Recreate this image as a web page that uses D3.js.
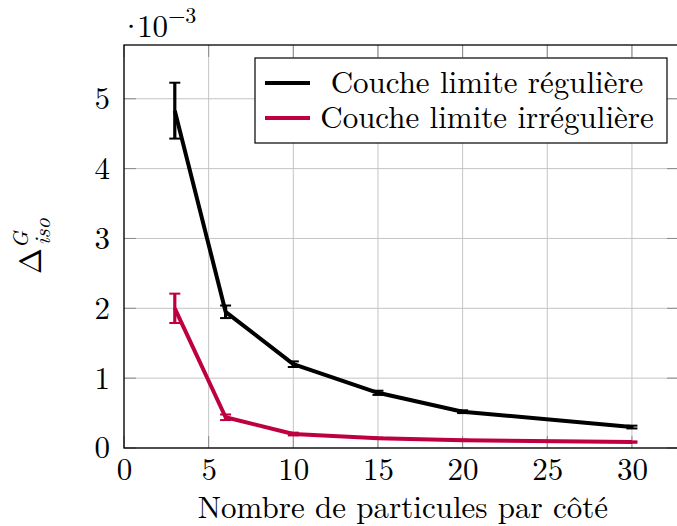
<!DOCTYPE html>
<html>
<head>
<meta charset="utf-8">
<script src="https://cdn.jsdelivr.net/npm/d3@7"></script>
<style>
  html, body { margin: 0; padding: 0; background: #fff; }
  svg { display: block; }
</style>
</head>
<body>
<svg id="chart" width="677" height="526"></svg>
<script>
// Number of particles per side
const particles = [3, 6, 10, 15, 20, 30];
// Delta_iso^G (×10^-3), regular boundary layer
const regularValues = [4.83, 1.95, 1.20, 0.79, 0.52, 0.30];
const regularErrors = [0.40, 0.09, 0.04, 0.03, 0.02, 0.02];
// Delta_iso^G (×10^-3), irregular boundary layer
const irregularValues = [2.00, 0.44, 0.20, 0.14, 0.11, 0.085];
const irregularErrors = [0.21, 0.04, 0.02, 0.01, 0.01, 0.01];

const xTicks = [0, 5, 10, 15, 20, 25, 30];
const yTicks = [0, 1, 2, 3, 4, 5];
const seriesNames = ["Couche limite régulière", "Couche limite irrégulière"];
const seriesColors = ["#000000", "#bf0040"];

const FONT = '"Latin Modern Roman", "Liberation Serif", serif';
const svg = d3.select("#chart");
const plotLeft = 124, plotTop = 45, plotBottom = 448, plotRight = 679;

const x = d3.scaleLinear().domain([0, 32.78]).range([plotLeft, plotRight]);
const y = d3.scaleLinear().domain([0, 5.77]).range([plotBottom, plotTop]);

// grid
const grid = svg.append("g").attr("stroke", "#c4c4c4").attr("stroke-width", 1);
xTicks.forEach(t => grid.append("line")
  .attr("x1", x(t)).attr("x2", x(t)).attr("y1", plotTop).attr("y2", plotBottom));
yTicks.forEach(t => grid.append("line")
  .attr("x1", plotLeft).attr("x2", plotRight).attr("y1", y(t)).attr("y2", y(t)));

// tick marks (inside, on all sides)
const ticks = svg.append("g").attr("stroke", "#8a8a8a").attr("stroke-width", 1);
xTicks.forEach(t => {
  ticks.append("line").attr("x1", x(t)).attr("x2", x(t)).attr("y1", plotBottom).attr("y2", plotBottom - 12);
  ticks.append("line").attr("x1", x(t)).attr("x2", x(t)).attr("y1", plotTop).attr("y2", plotTop + 12);
});
yTicks.forEach(t => {
  ticks.append("line").attr("x1", plotLeft).attr("x2", plotLeft + 12).attr("y1", y(t)).attr("y2", y(t));
  ticks.append("line").attr("x1", plotRight).attr("x2", plotRight - 12).attr("y1", y(t)).attr("y2", y(t));
});

// axes with labels
const xAxis = d3.axisBottom(x).tickValues(xTicks).tickSize(0).tickPadding(10).tickFormat(d3.format("d"));
const gx = svg.append("g").attr("transform", `translate(0,${plotBottom})`).call(xAxis);
gx.select(".domain").remove();
gx.selectAll("text").style("font-family", FONT).style("font-size", "31px").attr("fill", "#000");

const yAxis = d3.axisLeft(y).tickValues(yTicks).tickSize(0).tickPadding(14).tickFormat(d3.format("d"));
const gy = svg.append("g").attr("transform", `translate(${plotLeft},0)`).call(yAxis);
gy.select(".domain").remove();
gy.selectAll("text").style("font-family", FONT).style("font-size", "31px").attr("fill", "#000");

// series
const line = d3.line().x(d => x(d[0])).y(d => y(d[1]));
const series = [
  { values: regularValues, errors: regularErrors, color: seriesColors[0] },
  { values: irregularValues, errors: irregularErrors, color: seriesColors[1] }
];

series.slice().reverse().forEach(s => {
  const pts = particles.map((p, i) => [p, s.values[i]]);
  svg.append("path").datum(pts)
    .attr("fill", "none").attr("stroke", s.color).attr("stroke-width", 4)
    .attr("stroke-linejoin", "round").attr("d", line);
  const eb = svg.append("g").attr("stroke", s.color);
  particles.forEach((p, i) => {
    const hi = y(s.values[i] + s.errors[i]);
    const lo = y(s.values[i] - s.errors[i]);
    eb.append("line").attr("x1", x(p)).attr("x2", x(p)).attr("y1", hi).attr("y2", lo).attr("stroke-width", 3.2);
    eb.append("line").attr("x1", x(p) - 5.5).attr("x2", x(p) + 5.5).attr("y1", hi).attr("y2", hi).attr("stroke-width", 2);
    eb.append("line").attr("x1", x(p) - 5.5).attr("x2", x(p) + 5.5).attr("y1", lo).attr("y2", lo).attr("stroke-width", 2);
  });
});

// frame
svg.append("rect").attr("x", plotLeft).attr("y", plotTop).attr("width", plotRight - plotLeft).attr("height", plotBottom - plotTop)
  .attr("fill", "none").attr("stroke", "#000").attr("stroke-width", 1.3);

// legend
const lg = svg.append("g");
lg.append("rect").attr("x", 255).attr("y", 58).attr("width", 412).attr("height", 85)
  .attr("fill", "#fff").attr("stroke", "#000").attr("stroke-width", 1.2);
[83, 118].forEach((ly, i) => {
  lg.append("line").attr("x1", 265).attr("x2", 310).attr("y1", ly).attr("y2", ly)
    .attr("stroke", seriesColors[i]).attr("stroke-width", 4);
});
[93, 128].forEach((ly, i) => {
  lg.append("text").attr("x", 487).attr("y", ly).attr("text-anchor", "middle")
    .style("font-family", FONT).style("font-size", "31px").text(seriesNames[i]);
});

// x-axis title
svg.append("text").attr("x", 403).attr("y", 518).attr("text-anchor", "middle")
  .style("font-family", FONT).style("font-size", "31px")
  .text("Nombre de particules par côté");

// y-axis title: Δ^G_iso
const yl = svg.append("text").attr("transform", "translate(41,274) rotate(-90)")
  .style("font-family", FONT).style("font-size", "31px");
yl.append("tspan").text("Δ");
yl.append("tspan").attr("font-style", "italic").style("font-size", "22px").attr("dy", -13).text("G");
yl.append("tspan").attr("font-style", "italic").style("font-size", "22px").attr("dx", -14).attr("dy", 22).text("iso");

// scale factor
const ex = svg.append("text").attr("x", 119).attr("y", 37).style("font-family", FONT).style("font-size", "31px");
ex.append("tspan").text("·");
ex.append("tspan").attr("dx", -6).text("10");
ex.append("tspan").style("font-size", "22px").attr("dy", -14).text("−3");
</script>
</body>
</html>
